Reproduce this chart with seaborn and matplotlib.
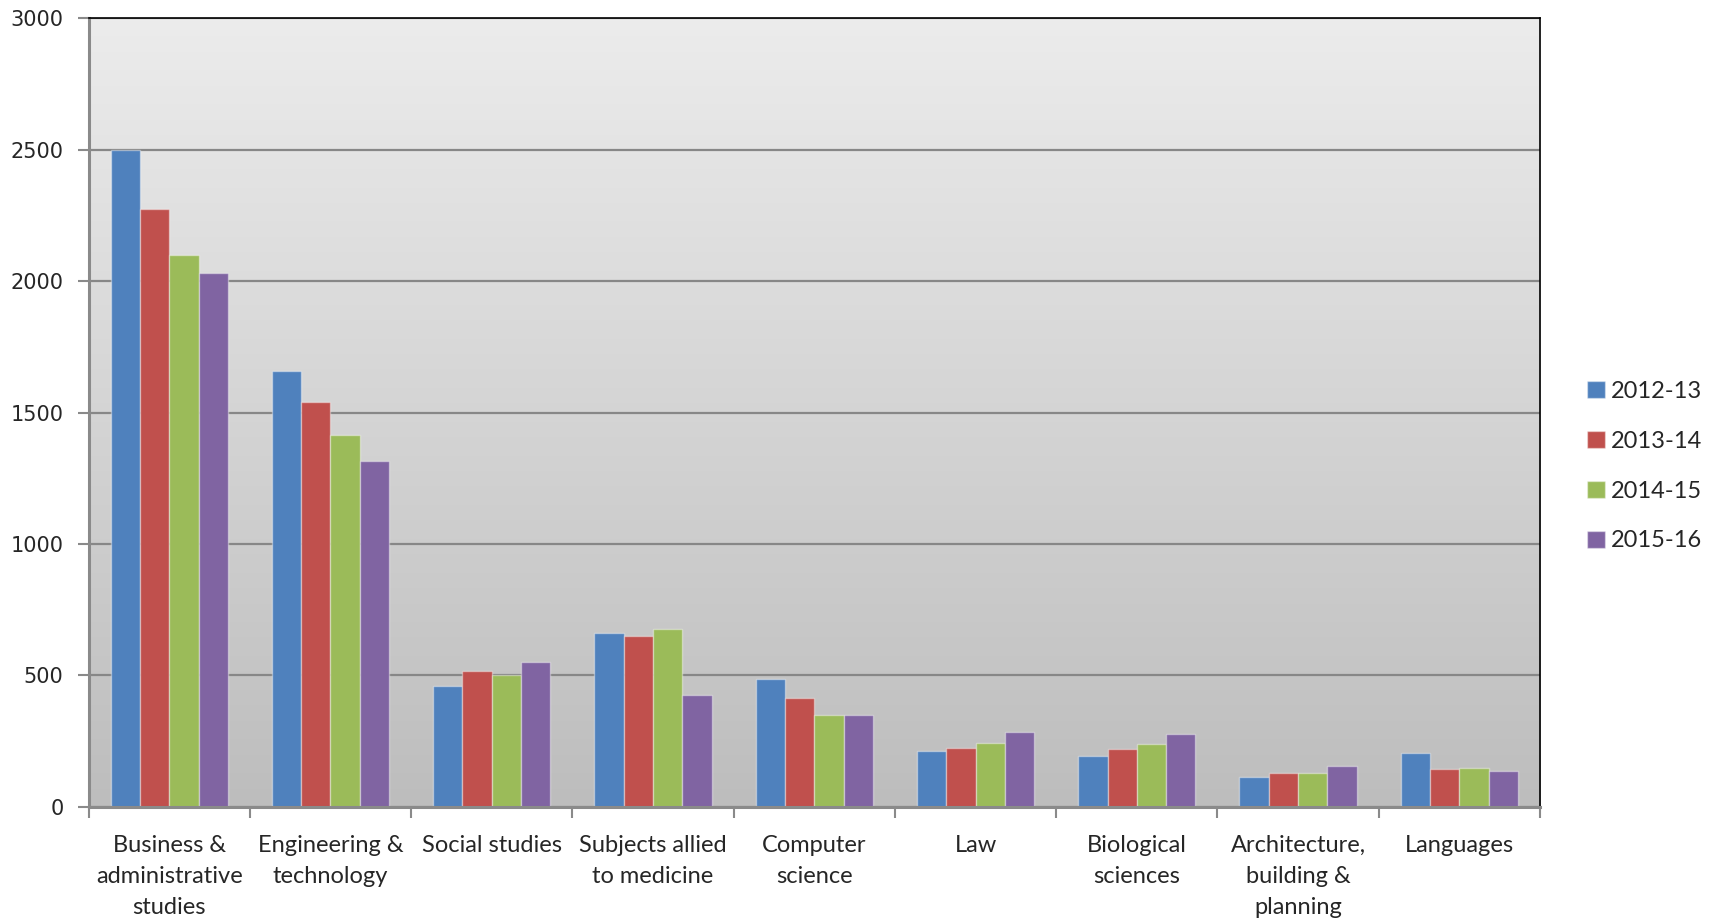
import numpy as np
import pandas as pd
import matplotlib
matplotlib.use('Agg')
import matplotlib.pyplot as plt
from matplotlib.colors import LinearSegmentedColormap
import seaborn as sns

# Data
subjects = ['Business &\nadministrative\nstudies', 'Engineering &\ntechnology', 'Social studies',
            'Subjects allied\nto medicine', 'Computer\nscience', 'Law', 'Biological\nsciences',
            'Architecture,\nbuilding &\nplanning', 'Languages']
years = ['2012-13', '2013-14', '2014-15', '2015-16']
y2012 = [2500, 1659, 459, 662, 485, 212, 193, 113, 203]
y2013 = [2274, 1540, 515, 650, 415, 222, 218, 127, 143]
y2014 = [2099, 1415, 500, 676, 350, 242, 239, 127, 147]
y2015 = [2030, 1314, 550, 425, 350, 283, 277, 154, 137]
colors = ['#4F81BD', '#C0504D', '#9BBB59', '#8064A2']

rows = []
for yr, vals in zip(years, [y2012, y2013, y2014, y2015]):
    for s, v in zip(subjects, vals):
        rows.append({'Subject': s, 'Year': yr, 'Count': v})
df = pd.DataFrame(rows)

sns.set_style('white')
fig = plt.figure(figsize=(17.13, 9.22), dpi=100)
ax = fig.add_axes([0.0517, 0.125, 0.8473, 0.855])

# gradient background
grad = np.linspace(0, 1, 256).reshape(-1, 1)
cmap = LinearSegmentedColormap.from_list('bg', ['#ececec', '#bdbdbd'])
ax.imshow(grad, aspect='auto', cmap=cmap, extent=[0, 1, 0, 1], transform=ax.transAxes, zorder=0)

sns.barplot(data=df, x='Subject', y='Count', hue='Year', palette=colors, width=0.727,
            saturation=1, edgecolor='#ffffff66', linewidth=1, ax=ax, zorder=2)

ax.set_xlim(-0.5, len(subjects) - 0.5)
ax.set_ylim(0, 3000)
ax.set_yticks(range(0, 3001, 500))
ax.yaxis.grid(True, color='#878787', linewidth=1.6, zorder=1)
ax.set_axisbelow(True)
ax.set_xlabel('')
ax.set_ylabel('')

for side in ['left', 'bottom']:
    ax.spines[side].set_color('#8a8a8a')
    ax.spines[side].set_linewidth(2.2)
for side in ['top', 'right']:
    ax.spines[side].set_color('black')
    ax.spines[side].set_linewidth(1.2)

ax.tick_params(axis='y', which='major', length=8, width=1.5, color='#8a8a8a', direction='out',
               labelsize=15, pad=10, left=True)
ax.tick_params(axis='x', which='major', length=0, pad=20)
ax.set_xticks(np.arange(-0.5, len(subjects)), minor=True)
ax.tick_params(axis='x', which='minor', length=8, width=1.5, color='#8a8a8a', direction='out', bottom=True)
for lab in ax.get_yticklabels():
    lab.set_family('DejaVu Sans')
for lab in ax.get_xticklabels():
    lab.set_family('Lato')
    lab.set_fontsize(17)
    lab.set_linespacing(1.6)
    lab.set_verticalalignment('top')

handles, labels = ax.get_legend_handles_labels()
leg = ax.legend(handles, labels, loc='center left', bbox_to_anchor=(1.018, 0.432), frameon=False,
                handlelength=0.75, handleheight=0.75, handletextpad=0.25, labelspacing=1.22,
                prop={'family': 'Lato', 'size': 17})

fig.savefig('out.png', dpi=100)
